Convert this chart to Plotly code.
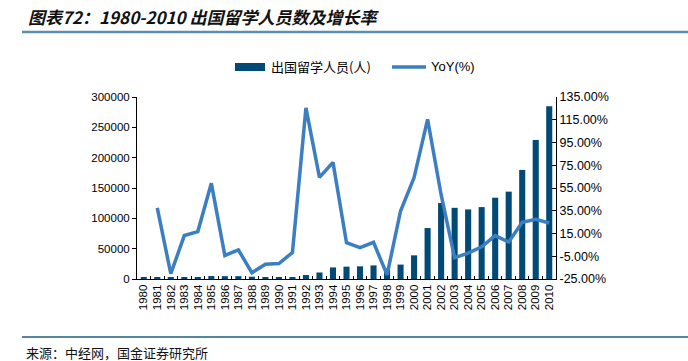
import plotly.graph_objects as go

years = [str(y) for y in range(1980, 2011)]
students = [2124, 2922, 2326, 2633, 3073, 4888, 4676, 4703, 3786, 3329, 2950, 2900,
            6540, 10742, 19071, 20381, 20905, 22410, 17622, 23749, 38989, 83973,
            125179, 117307, 114682, 118515, 134000, 144000, 179800, 229300, 284700]
yoy = [None, 37.6, -20.4, 13.2, 16.7, 59.1, -4.3, 0.6, -19.5, -12.1, -11.4, -1.7,
       125.5, 64.3, 77.5, 6.9, 2.6, 7.2, -21.4, 34.8, 64.2, 115.4, 49.1, -6.3,
       -2.2, 3.3, 13.1, 7.5, 24.9, 27.5, 24.2]
left_ticks = [0, 50000, 100000, 150000, 200000, 250000, 300000]
right_ticks = [-25, -5, 15, 35, 55, 75, 95, 115, 135]
right_labels = ["-25.00%", "-5.00%", "15.00%", "35.00%", "55.00%", "75.00%", "95.00%", "115.00%", "135.00%"]
bar_name = "出国留学人员(人)"
line_name = "YoY(%)"

BAR = "#004a75"
LINE = "#3b7ec1"
NUM_FONT = "Liberation Sans, Arial, sans-serif"
CJK = "Noto Sans CJK SC"

fig = go.Figure()
fig.add_trace(go.Bar(x=years, y=students, name=bar_name, marker_color=BAR,
                     marker_line_width=0, yaxis="y", showlegend=False))
fig.add_trace(go.Scatter(x=years, y=yoy, name=line_name, mode="lines",
                         line=dict(color=LINE, width=3.5), yaxis="y2",
                         connectgaps=False, showlegend=False))

L, R, T, B = 137, 132, 97, 82
W, H = 688, 361
pw = W - L - R
ph = H - T - B

def px(x):
    return (x - L) / pw

def py(y):
    return (H - B - y) / ph

fig.update_layout(
    width=W, height=H,
    margin=dict(l=L, r=R, t=T, b=B, autoexpand=False),
    paper_bgcolor="white", plot_bgcolor="white",
    bargap=0.55,
    font=dict(family=NUM_FONT, size=11, color="#000000"),
    showlegend=False,
    xaxis=dict(type="category", tickmode="array", tickvals=years, ticktext=years,
               showline=True, linecolor="#000000", linewidth=1,
               ticks="inside", tickson="boundaries", ticklen=3, tickcolor="#000000",
               tickangle=-90, tickfont=dict(family=NUM_FONT, size=11.5),
               showgrid=False, zeroline=False),
    yaxis=dict(range=[0, 300000], tickvals=left_ticks, tickformat="d",
               showline=True, linecolor="#000000", linewidth=1,
               ticks="outside", ticklen=4, tickcolor="#000000",
               showgrid=False, zeroline=False, tickfont=dict(family=NUM_FONT, size=11.5)),
    yaxis2=dict(range=[-25, 135], tickvals=right_ticks, ticktext=right_labels,
                overlaying="y", side="right", showline=True, linecolor="#000000",
                linewidth=1, ticks="inside", ticklen=4, tickcolor="#000000",
                showgrid=False, zeroline=False, tickfont=dict(family=NUM_FONT, size=12.5)),
)

# decorative rules
fig.add_shape(type="line", xref="paper", yref="paper", layer="above", x0=px(22), x1=px(688),
              y0=py(32), y1=py(32), line=dict(color="#5b8fae", width=2.5))
fig.add_shape(type="line", xref="paper", yref="paper", layer="above", x0=px(22), x1=px(688),
              y0=py(337), y1=py(337), line=dict(color="#1f5c80", width=1.5))

# manual legend
fig.add_shape(type="rect", xref="paper", yref="paper", x0=px(235), x1=px(265),
              y0=py(71), y1=py(63), fillcolor=BAR, line=dict(width=0))
fig.add_annotation(xref="paper", yref="paper", x=px(269), y=py(67), xanchor="left",
                   yanchor="middle", showarrow=False, text=bar_name,
                   font=dict(family=CJK, size=13, color="#000000"))
fig.add_shape(type="line", xref="paper", yref="paper", x0=px(392), x1=px(426),
              y0=py(67), y1=py(67), line=dict(color=LINE, width=3.5))
fig.add_annotation(xref="paper", yref="paper", x=px(429), y=py(67), xanchor="left",
                   yanchor="middle", showarrow=False, text=line_name,
                   font=dict(family=NUM_FONT, size=13, color="#000000"))

fig.add_annotation(xref="paper", yref="paper", x=px(26), y=py(16), xanchor="left",
                   yanchor="middle", showarrow=False,
                   text="<b><i>图表72：1980-2010 出国留学人员数及增长率</i></b>",
                   font=dict(family=CJK, size=17, color="#111111"))
fig.add_annotation(xref="paper", yref="paper", x=px(24), y=py(352), xanchor="left",
                   yanchor="middle", showarrow=False,
                   text="来源：中经网，国金证券研究所",
                   font=dict(family=CJK, size=13, color="#111111"))

fig.write_html("out.html", config={"displayModeBar": False},
               post_script="document.body.style.margin='0';document.body.style.padding='0';")
